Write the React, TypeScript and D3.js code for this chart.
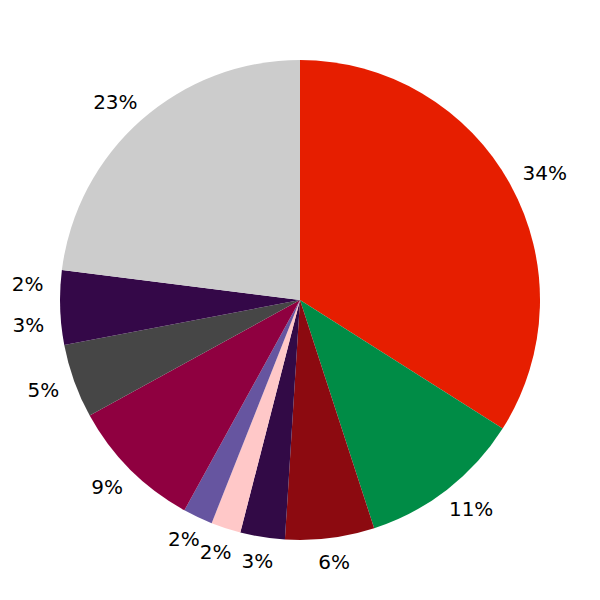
import React from 'react'
import * as d3 from 'd3'

const values = [34, 11, 6, 3, 2, 2, 9, 5, 3, 2, 23]
const labels = ['34%', '11%', '6%', '3%', '2%', '2%', '9%', '5%', '3%', '2%', '23%']
const colors = [
  '#e61e00', '#008c46', '#8c0a10', '#320a46', '#ffc8c8', '#6655a0',
  '#8f0040', '#464646', '#340848', '#340848', '#cccccc'
]

const width = 600
const height = 600
const cx = 300
const cy = 300
const radius = 240
const labelRadius = 257
const fontSize = 20

// rough DejaVu Sans widths
const textWidth = (s: string) =>
  s.split('').reduce((w, ch) => w + (ch === '%' ? 0.95 : 0.636), 0) * fontSize

const App: React.FC = () => {
  const pie = d3.pie<number>().value(d => d).sort(null)
  const arcs = pie(values)
  const arc = d3.arc<d3.PieArcDatum<number>>().innerRadius(0).outerRadius(radius)

  return (
    <svg width={width} height={height} style={{ position: 'absolute', left: 0, top: 0 }}>
      <g transform={`translate(${cx},${cy})`}>
        {arcs.map((a, i) => (
          <path key={i} d={arc(a) || ''} fill={colors[i]} />
        ))}
        {arcs.map((a, i) => {
          const mid = (a.startAngle + a.endAngle) / 2
          const ux = Math.sin(mid)
          const uy = -Math.cos(mid)
          const w = textWidth(labels[i])
          const h = 0.729 * fontSize
          // push the label box outward: half width along x, half height along y
          const x = (labelRadius + w / 2) * ux
          const y = (labelRadius + h / 2) * uy
          return (
            <text
              key={'l' + i}
              x={x}
              y={y + h / 2}
              textAnchor="middle"
              fontFamily="DejaVu Sans"
              fontSize={fontSize}
              fill="#000"
            >
              {labels[i]}
            </text>
          )
        })}
      </g>
    </svg>
  )
}

export default App
